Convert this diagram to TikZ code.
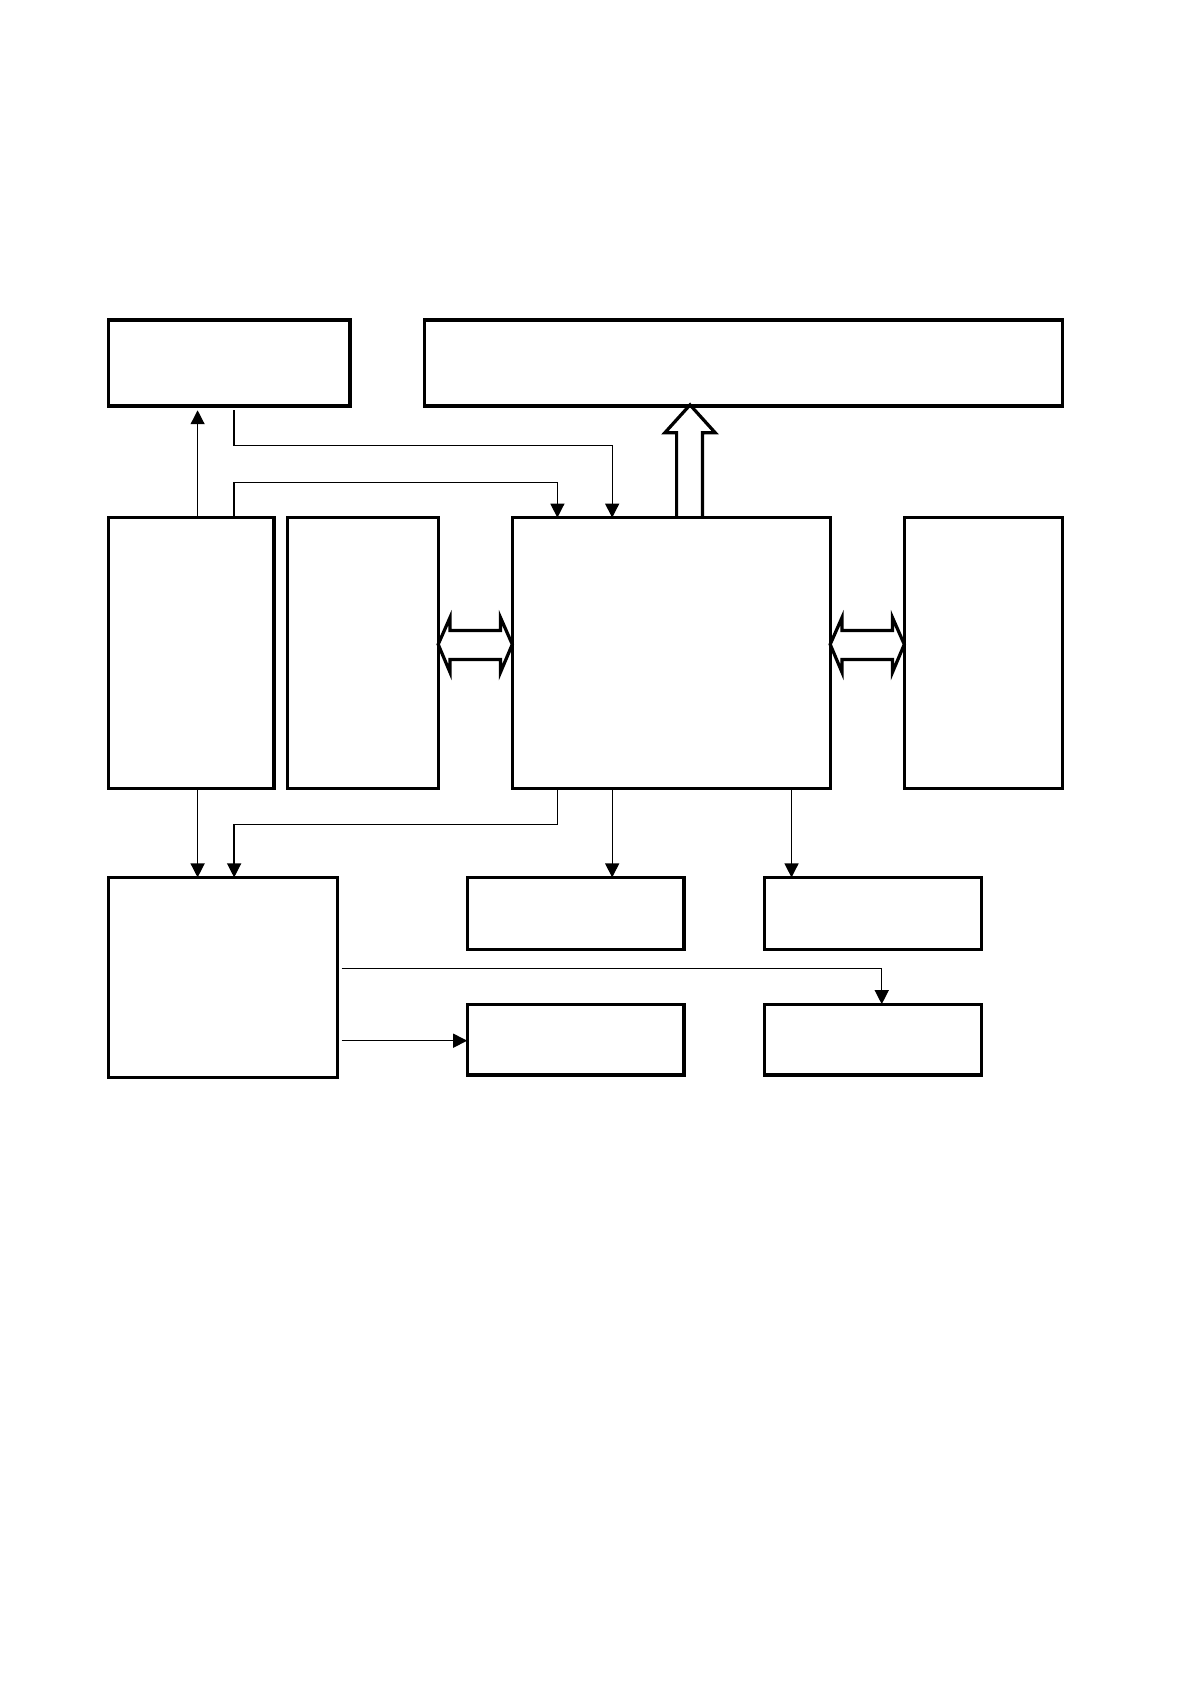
\documentclass[tikz,border=0pt]{standalone}
\usetikzlibrary{arrows.meta,fit}
\begin{document}
\begin{tikzpicture}[x=0.5pt,y=-0.5pt,
  box/.style={draw=black,line width=1.55pt,inner sep=0pt,outer sep=0pt},
  conn/.style={draw=black,line width=0.6pt},
  arr/.style={conn,-{Triangle[length=6.5pt,width=6.5pt]}},
  hollow/.style={draw=black,line width=1.5pt,line join=miter}]
\fill[white] (0,0) rectangle (1108,1568);
\useasboundingbox (0,0) rectangle (1108,1568);
% boxes
\node[box,fit={(101,298) (326,378)}] (A) {};
\node[box,fit={(395,298) (989,378)}] (B) {};
\node[box,fit={(101,482) (255,734)}] (C) {};
\node[box,fit={(268,482) (408,734)}] (D) {};
\node[box,fit={(477,482) (773,734)}] (E) {};
\node[box,fit={(842,482) (989,734)}] (F) {};
\node[box,fit={(101,817) (314,1003)}] (G) {};
\node[box,fit={(435,817) (637,884)}] (H) {};
\node[box,fit={(712,817) (914,884)}] (I) {};
\node[box,fit={(435,935) (637,1001)}] (J) {};
\node[box,fit={(712,935) (914,1001)}] (K) {};
% helper coordinates
\coordinate (x184) at (184,0);
\coordinate (x218) at (218,0);
\coordinate (x519) at (519,0);
\coordinate (x570) at (570,0);
\coordinate (x737) at (737,0);
\coordinate (x821) at (821,0);
\coordinate (y415) at (0,415);
\coordinate (y449) at (0,449);
\coordinate (y768) at (0,768);
\coordinate (y902) at (0,902);
\coordinate (y969) at (0,969);
% connectors
\draw[arr] (C.north -| x184) -- ([yshift=-2pt]A.south -| x184);
\draw[arr,shorten <=2pt] (A.south -| x218) -- (x218 |- y415) -- (x570 |- y415) -- (E.north -| x570);
\draw[arr] (C.north -| x218) -- (x218 |- y449) -- (x519 |- y449) -- (E.north -| x519);
\draw[arr] (C.south -| x184) -- (G.north -| x184);
\draw[arr] (E.south -| x519) -- (x519 |- y768) -- (x218 |- y768) -- (G.north -| x218);
\draw[arr] (E.south -| x570) -- (H.north -| x570);
\draw[arr] (E.south -| x737) -- (I.north -| x737);
\draw[arr,shorten <=2pt] (G.east |- y902) -- (x821 |- y902) -- (K.north -| x821);
\draw[arr,shorten <=2pt] (G.east |- y969) -- (J.west |- y969);
% hollow arrows
\draw[hollow] (630,482) -- (630,403) -- (619,403) -- (642.5,377) -- (666,403) -- (654,403) -- (654,482);
\draw[hollow] (408,600) -- (419,575) -- (419,587) -- (466,587) -- (466,575) -- (477,600) -- (466,626) -- (466,614) -- (419,614) -- (419,626) -- cycle;
\draw[hollow] (773,600) -- (784,575) -- (784,587) -- (831,587) -- (831,575) -- (842,600) -- (831,626) -- (831,614) -- (784,614) -- (784,626) -- cycle;
\end{tikzpicture}
\end{document}
